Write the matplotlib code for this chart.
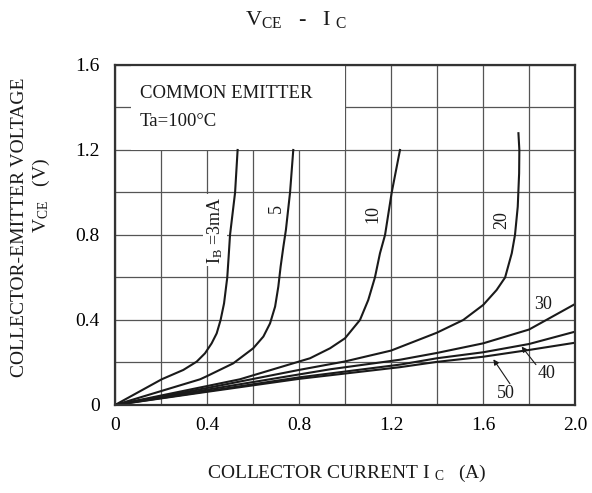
import matplotlib
matplotlib.use("Agg")
import matplotlib.pyplot as plt
from matplotlib.patches import Rectangle

INK = "#1a1a1a"; GRID = "#555555"
plt.rcParams.update({"font.family": "Liberation Serif", "font.size": 14,
    "mathtext.fontset": "custom", "mathtext.rm": "Liberation Serif",
    "mathtext.it": "Liberation Serif", "text.color": INK})

# curve data: collector current (A) vs V_CE (V)
ic_3 = [0, 0.203, 0.297, 0.355, 0.391, 0.42, 0.442, 0.459, 0.474, 0.483, 0.488, 0.494, 0.5, 0.511, 0.522, 0.533]
vce_3 = [0, 0.121, 0.165, 0.204, 0.243, 0.29, 0.337, 0.4, 0.478, 0.557, 0.6, 0.698, 0.8, 0.9, 1.0, 1.2]
ic_5 = [0, 0.37, 0.4, 0.514, 0.601, 0.645, 0.674, 0.696, 0.71, 0.72, 0.732, 0.743, 0.761, 0.775]
vce_5 = [0, 0.121, 0.136, 0.196, 0.267, 0.322, 0.384, 0.463, 0.557, 0.651, 0.745, 0.824, 1.0, 1.2]
ic_10 = [0, 0.543, 0.848, 0.935, 1.0, 1.065, 1.101, 1.13, 1.152, 1.174, 1.203, 1.239]
vce_10 = [0, 0.121, 0.22, 0.267, 0.314, 0.4, 0.494, 0.6, 0.714, 0.8, 1.0, 1.2]
ic_20 = [0, 0.4, 0.8, 1.0, 1.2, 1.399, 1.514, 1.601, 1.659, 1.696, 1.725, 1.739, 1.751, 1.757, 1.758, 1.754]
vce_20 = [0, 0.08, 0.165, 0.205, 0.256, 0.34, 0.4, 0.471, 0.541, 0.6, 0.714, 0.8, 0.933, 1.09, 1.2, 1.279]
ic_30 = [0, 0.4, 0.935, 1.239, 1.4, 1.6, 1.8, 2.0]
vce_30 = [0, 0.072, 0.168, 0.213, 0.245, 0.29, 0.355, 0.475]
ic_40 = [0, 0.4, 0.8, 1.239, 1.4, 1.6, 1.8, 2.0]
vce_40 = [0, 0.065, 0.13, 0.19, 0.22, 0.248, 0.287, 0.345]
ic_50 = [0, 0.4, 0.8, 1.239, 1.4, 1.6, 1.8, 2.0]
vce_50 = [0, 0.062, 0.123, 0.178, 0.203, 0.227, 0.259, 0.293]

x_ticks = [0, 0.4, 0.8, 1.2, 1.6, 2.0]
x_labels = ["0", "0.4", "0.8", "1.2", "1.6", "2.0"]
y_ticks = [0, 0.4, 0.8, 1.2, 1.6]
y_labels = ["0", "0.4", "0.8", "1.2", "1.6"]

fig = plt.figure(figsize=(5.92, 4.93), dpi=100)
ax = fig.add_axes([0.1943, 0.1785, 0.777, 0.6897])

for xs, ys in [(ic_3, vce_3), (ic_5, vce_5), (ic_10, vce_10), (ic_20, vce_20),
               (ic_30, vce_30), (ic_40, vce_40), (ic_50, vce_50)]:
    ax.plot(xs, ys, color=INK, lw=1.5, zorder=2, solid_joinstyle="round")

ax.set_xlim(0, 2.0); ax.set_ylim(0, 1.6)
ax.set_xticks([i * 0.2 for i in range(11)], minor=True)
ax.set_yticks([i * 0.2 for i in range(9)], minor=True)
ax.set_xticks(x_ticks, x_labels); ax.set_yticks(y_ticks, y_labels)
ax.grid(True, which="both", color=GRID, lw=0.9)
ax.set_axisbelow(True)
ax.tick_params(which="both", length=0)
ax.tick_params(axis="x", pad=9); ax.tick_params(axis="y", pad=11)
for s in ax.spines.values():
    s.set_color("#333333"); s.set_linewidth(1.6)

# legend box masking the grid
ax.add_patch(Rectangle((0.07, 1.2), 0.93, 0.4, facecolor="white", edgecolor="none", zorder=1))
ax.text(0.109, 1.467, "COMMON EMITTER", fontsize=13.5, va="center", ha="left", zorder=3)
ax.text(0.109, 1.333, "Ta=100°C", fontsize=13.5, va="center", ha="left", zorder=3)

lab = dict(fontsize=13, rotation=90, ha="center", va="center", zorder=1.5,
           bbox=dict(fc="white", ec="none", pad=1.5))
ax.text(0.435, 0.824, "I$_\\mathrm{B}$ =3mA", **lab)
ax.text(0.703, 0.926, "5", **lab)
ax.text(1.12, 0.899, "10", **lab)
ax.text(1.681, 0.871, "20", **lab)
ax.text(1.862, 0.475, "30", fontsize=13, ha="center", va="center")
ax.text(1.877, 0.149, "40", fontsize=13, ha="center", va="center")
ax.text(1.7, 0.055, "50", fontsize=13, ha="center", va="center")
arw = dict(arrowstyle="-|>", color=INK, lw=0.8, mutation_scale=8, shrinkA=0, shrinkB=0)
ax.annotate("", xy=(1.768, 0.275), xytext=(1.83, 0.19), arrowprops=arw)
ax.annotate("", xy=(1.645, 0.215), xytext=(1.717, 0.1), arrowprops=arw)

fig.text(296 / 592, 1 - 20 / 493, "V$_\\mathrm{CE}$   -   I $_\\mathrm{C}$", ha="center", va="center", fontsize=16)
fig.text(347 / 592, 1 - 473 / 493, "COLLECTOR CURRENT I $_\\mathrm{C}$   (A)", ha="center", va="center", fontsize=14)
fig.text(20 / 592, 1 - 227 / 493, "COLLECTOR-EMITTER VOLTAGE", rotation=90, ha="center", va="center", fontsize=14)
fig.text(41 / 592, 1 - 195 / 493, "V$_\\mathrm{CE}$   (V)", rotation=90, ha="center", va="center", fontsize=14)

fig.savefig("out.png", dpi=100, facecolor="white")
